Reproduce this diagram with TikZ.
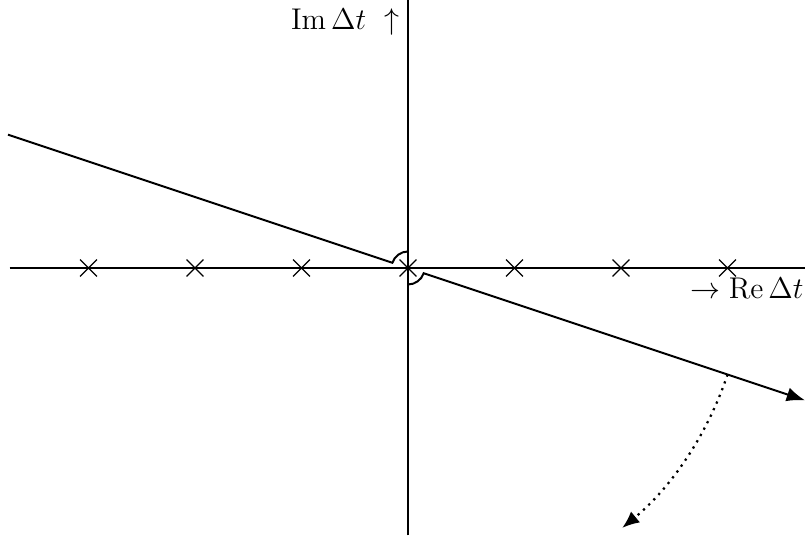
\documentclass[tikz,border=0pt]{standalone}
\usepackage{amsmath,amssymb}
\usetikzlibrary{arrows.meta, positioning, calc, shapes.misc}

\begin{document}
\begin{tikzpicture}[x=1.5cm, y=1.5cm, line width=0.8pt,
  pole/.style={draw, cross out, minimum size=0.22cm, inner sep=0pt, line width=0.5pt},
  ray/.style={line width=0.8pt},
  rot/.style={dotted, line width=0.9pt, -{Latex[length=2.4mm, width=2mm]}},
  lab/.style={anchor=north east, inner sep=1pt, font=\large}]
  \useasboundingbox (-3.831,-2.554) rectangle (3.746,2.516);
  \coordinate (o) at (0,0);
  \coordinate (west) at (-3.74,0);
  \coordinate (east) at (3.73,0);
  \coordinate (north) at (0,2.516);
  \coordinate (south) at (0,-2.51);
  \draw (west) -- (east);
  \draw (south) -- (north);
  \foreach \i in {-3,...,3}
    \node[pole] (p\i) at (\i,0) {};
  % contour
  \coordinate (in) at (-3.756,1.252);
  \coordinate (out) at (3.728,-1.243);
  \coordinate (gap1) at (161.57:0.155);
  \coordinate (gap2) at (0,-0.155);
  \draw[ray] (in) -- (gap1) arc[start angle=161.57, end angle=90, radius=0.155];
  \draw[ray, -{Latex[length=2.6mm, width=2mm]}] (gap2) arc[start angle=-90, end angle=-18.43, radius=0.155] -- (out);
  % rotation
  \coordinate (r0) at (3,-1);
  \coordinate (r1) at (-50.5:3.162);
  \draw[rot] (r0) arc[start angle=-18.43, end angle=-50.5, radius=3.162];
  \node[lab] (im) at (-0.05,2.47) {$\mathrm{Im}\,\Delta t\ \uparrow$};
  \node[lab] (re) at (3.746,-0.06) {$\rightarrow\mathrm{Re}\,\Delta t$};
\end{tikzpicture}
\end{document}
